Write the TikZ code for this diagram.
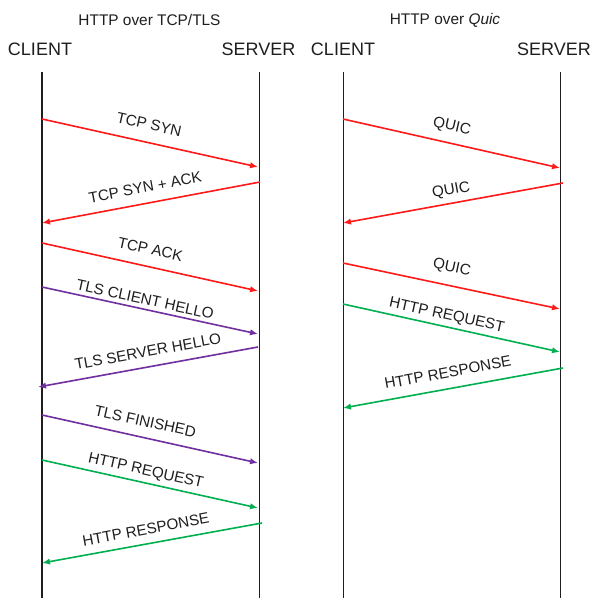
\documentclass[tikz,border=0pt]{standalone}
\usepackage{fontspec}
\setmainfont{Liberation Sans}
\usetikzlibrary{arrows.meta}
\definecolor{msgred}{HTML}{FF1A1A}
\definecolor{msgpurple}{HTML}{7030A0}
\definecolor{msggreen}{HTML}{00B050}
\definecolor{ink}{HTML}{1E1E1E}
\begin{document}
\begin{tikzpicture}[x=1pt,y=-1pt,
  lifeline/.style={draw=ink, line width=1.7pt},
  head/.style={text=ink, font=\fontsize{18}{21}\selectfont, inner sep=0pt},
  title/.style={text=ink, font=\fontsize{15.4}{18}\selectfont, inner sep=0pt},
  msg/.style={line width=1.6pt, -{Latex[length=8pt,width=6.5pt]}},
  lbl/.style={sloped, text=ink, font=\fontsize{15.2}{18}\selectfont, inner sep=0pt, text depth=0pt}
]
\fill[white] (0,0) rectangle (595,598);
\useasboundingbox (0,0) rectangle (595,598);

% titles and headers
\node[title] (t1) at (149.5,20) {HTTP over TCP/TLS};
\node[title] (t2) at (445,20) {HTTP over \textit{Quic}};
\node[head] (h1) at (40,49) {CLIENT};
\node[head] (h2) at (258.5,49) {SERVER};
\node[head] (h3) at (343,49) {CLIENT};
\node[head] (h4) at (554,49) {SERVER};

% lifelines
\coordinate (c1t) at (42,72);   \coordinate (c1b) at (42,598);
\coordinate (s1t) at (259.5,72); \coordinate (s1b) at (259.5,598);
\coordinate (c2t) at (343.5,72); \coordinate (c2b) at (343.5,598);
\coordinate (s2t) at (560.5,72); \coordinate (s2b) at (560.5,598);
\draw[lifeline] (c1t) -- (c1b);
\draw[lifeline] (s1t) -- (s1b);
\draw[lifeline] (c2t) -- (c2b);
\draw[lifeline] (s2t) -- (s2b);

% left messages
\coordinate (m1a) at (42,119);  \coordinate (m1b) at (258,167);
\coordinate (m2a) at (260,182); \coordinate (m2b) at (42,223);
\coordinate (m3a) at (42,243);  \coordinate (m3b) at (258,291);
\coordinate (m4a) at (42,287);  \coordinate (m4b) at (258,334);
\coordinate (m5a) at (258,347); \coordinate (m5b) at (38,387);
\coordinate (m6a) at (42,415);  \coordinate (m6b) at (258,463);
\coordinate (m7a) at (42,460);  \coordinate (m7b) at (258,508);
\coordinate (m8a) at (262,523); \coordinate (m8b) at (42,563);

\draw[msg, msgred] (m1a) -- node[lbl, pos=.478, above=12pt] {TCP SYN} (m1b);
\draw[msg, msgred] (m2a) -- node[lbl, pos=.513, above=10pt] {TCP SYN + ACK} (m2b);
\draw[msg, msgred] (m3a) -- node[lbl, pos=.484, above=11.3pt] {TCP ACK} (m3b);
\draw[msg, msgpurple] (m4a) -- node[lbl, pos=.468, above=3.8pt] {TLS CLIENT HELLO} (m4b);
\draw[msg, msgpurple] (m5a) -- node[lbl, pos=.488, above=9.3pt] {TLS SERVER HELLO} (m5b);
\draw[msg, msgpurple] (m6a) -- node[lbl, pos=.462, above=10.3pt] {TLS FINISHED} (m6b);
\draw[msg, msggreen] (m7a) -- node[lbl, pos=.469, above=6.7pt] {HTTP REQUEST} (m7b);
\draw[msg, msggreen] (m8a) -- node[lbl, pos=.516, above=8.4pt] {HTTP RESPONSE} (m8b);

% right messages
\coordinate (q1a) at (343,119); \coordinate (q1b) at (560,168);
\coordinate (q2a) at (563,183); \coordinate (q2b) at (343,223);
\coordinate (q3a) at (343,263); \coordinate (q3b) at (560,309);
\coordinate (q4a) at (343,304); \coordinate (q4b) at (560,352);
\coordinate (q5a) at (563,368); \coordinate (q5b) at (343,408);

\draw[msg, msgred] (q1a) -- node[lbl, pos=.485, above=11.8pt] {QUIC} (q1b);
\draw[msg, msgred] (q2a) -- node[lbl, pos=.498, above=7.7pt] {QUIC} (q2b);
\draw[msg, msgred] (q3a) -- node[lbl, pos=.484, above=13.2pt] {QUIC} (q3b);
\draw[msg, msggreen] (q4a) -- node[lbl, pos=.467, above=6.4pt] {HTTP REQUEST} (q4b);
\draw[msg, msggreen] (q5a) -- node[lbl, pos=.51, above=10.3pt] {HTTP RESPONSE} (q5b);
\end{tikzpicture}
\end{document}
